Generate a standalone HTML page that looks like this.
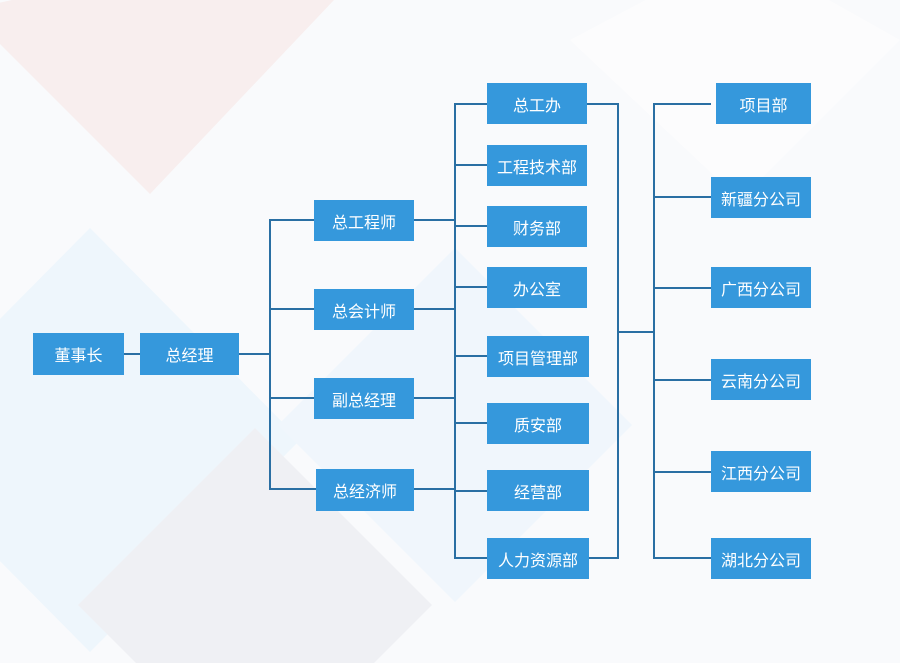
<!DOCTYPE html>
<html><head><meta charset="utf-8"><style>
html,body{margin:0;padding:0;width:900px;height:663px;overflow:hidden}
body{position:relative;background:#f9fafc;font-family:"Liberation Sans","Noto Sans CJK SC",sans-serif}
.b{position:absolute;background:#3598dc;color:#fff;font-size:16px;display:flex;align-items:center;justify-content:center}
.h{position:absolute;height:2px;background:#2a6fa3}
.v{position:absolute;width:2px;background:#2a6fa3}
</style></head><body>
<svg style="position:absolute;left:0;top:0" width="900" height="663">
<polygon points="150,-30 334,0 150,194 -34,10" fill="#f8eeee"/>
<polygon points="90,228 300,440 90,652 -120,440" fill="#eef6fc"/>
<polygon points="455,248 632,425 455,602 278,425" fill="#f0f6fc"/>
<polygon points="255,428 432,605 255,782 78,605" fill="#eff0f4"/>
<polygon points="740,-50 900,40 740,200 570,40" fill="#fcfcfd"/>
</svg>

<div class="h" style="left:124px;top:353px;width:16px"></div>
<div class="h" style="left:239px;top:353px;width:32px"></div>
<div class="v" style="left:269px;top:219px;height:271px"></div>
<div class="h" style="left:269px;top:219px;width:46px"></div>
<div class="h" style="left:269px;top:308px;width:46px"></div>
<div class="h" style="left:269px;top:397px;width:46px"></div>
<div class="h" style="left:269px;top:488px;width:47px"></div>
<div class="h" style="left:414px;top:219px;width:42px"></div>
<div class="h" style="left:414px;top:308px;width:42px"></div>
<div class="h" style="left:414px;top:397px;width:42px"></div>
<div class="h" style="left:414px;top:488px;width:42px"></div>
<div class="v" style="left:454px;top:103px;height:456px"></div>
<div class="h" style="left:454px;top:103px;width:33px"></div>
<div class="h" style="left:454px;top:164px;width:33px"></div>
<div class="h" style="left:454px;top:225px;width:33px"></div>
<div class="h" style="left:454px;top:286px;width:33px"></div>
<div class="h" style="left:454px;top:355px;width:33px"></div>
<div class="h" style="left:454px;top:422px;width:33px"></div>
<div class="h" style="left:454px;top:490px;width:33px"></div>
<div class="h" style="left:454px;top:557px;width:33px"></div>
<div class="h" style="left:587px;top:103px;width:32px"></div>
<div class="h" style="left:589px;top:557px;width:30px"></div>
<div class="v" style="left:617px;top:103px;height:456px"></div>
<div class="h" style="left:617px;top:331px;width:38px"></div>
<div class="v" style="left:653px;top:103px;height:456px"></div>
<div class="h" style="left:653px;top:103px;width:58px"></div>
<div class="h" style="left:653px;top:196px;width:58px"></div>
<div class="h" style="left:653px;top:287px;width:58px"></div>
<div class="h" style="left:653px;top:379px;width:58px"></div>
<div class="h" style="left:653px;top:471px;width:58px"></div>
<div class="h" style="left:653px;top:557px;width:58px"></div>

<div class="b" style="left:33px;top:333px;width:91px;height:42px">董事长</div>
<div class="b" style="left:140px;top:333px;width:99px;height:42px">总经理</div>
<div class="b" style="left:314px;top:200px;width:100px;height:41px">总工程师</div>
<div class="b" style="left:314px;top:289px;width:100px;height:41px">总会计师</div>
<div class="b" style="left:314px;top:378px;width:100px;height:41px">副总经理</div>
<div class="b" style="left:316px;top:469px;width:98px;height:42px">总经济师</div>
<div class="b" style="left:487px;top:83px;width:100px;height:41px">总工办</div>
<div class="b" style="left:487px;top:145px;width:100px;height:41px">工程技术部</div>
<div class="b" style="left:487px;top:206px;width:100px;height:41px">财务部</div>
<div class="b" style="left:487px;top:267px;width:100px;height:41px">办公室</div>
<div class="b" style="left:487px;top:336px;width:102px;height:41px">项目管理部</div>
<div class="b" style="left:487px;top:403px;width:102px;height:41px">质安部</div>
<div class="b" style="left:487px;top:470px;width:102px;height:41px">经营部</div>
<div class="b" style="left:487px;top:538px;width:102px;height:41px">人力资源部</div>
<div class="b" style="left:716px;top:83px;width:95px;height:41px">项目部</div>
<div class="b" style="left:711px;top:177px;width:100px;height:41px">新疆分公司</div>
<div class="b" style="left:711px;top:267px;width:100px;height:41px">广西分公司</div>
<div class="b" style="left:711px;top:359px;width:100px;height:41px">云南分公司</div>
<div class="b" style="left:711px;top:451px;width:100px;height:41px">江西分公司</div>
<div class="b" style="left:711px;top:538px;width:100px;height:41px">湖北分公司</div>
</body></html>
